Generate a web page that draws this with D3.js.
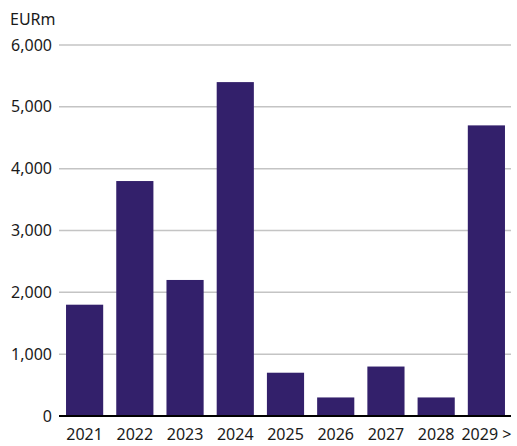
<!DOCTYPE html>
<html>
<head>
<meta charset="utf-8">
<script src="https://cdn.jsdelivr.net/npm/d3@7"></script>
<style>
  html, body { margin: 0; padding: 0; background: #fff; }
  svg text { font-family: "Noto Sans", sans-serif; fill: #1a1a1a; }
</style>
</head>
<body>
<svg id="chart" width="517" height="446"></svg>
<script>
const categories = ["2021", "2022", "2023", "2024", "2025", "2026", "2027", "2028", "2029 >"];
const values = [1800, 3800, 2200, 5400, 700, 300, 800, 300, 4700];
const yTicks = [0, 1000, 2000, 3000, 4000, 5000, 6000];
const unitLabel = "EURm";

const svg = d3.select("#chart");
const plot = { left: 60, right: 511, top: 45, bottom: 416 };

const x = d3.scaleBand()
  .domain(categories)
  .range([plot.left, plot.right])
  .paddingInner(0.26)
  .paddingOuter(0.12);

const y = d3.scaleLinear().domain([0, 6000]).range([plot.bottom, plot.top]);

// horizontal gridlines
svg.append("g")
  .selectAll("line")
  .data(yTicks.filter(d => d > 0))
  .join("line")
  .attr("x1", plot.left - 1)
  .attr("x2", plot.right)
  .attr("y1", d => y(d))
  .attr("y2", d => y(d))
  .attr("stroke", "#c4c4c4")
  .attr("stroke-width", 1.5);

// y tick labels
svg.append("g")
  .selectAll("text")
  .data(yTicks)
  .join("text")
  .attr("x", 52)
  .attr("y", d => y(d))
  .attr("dy", "0.35em")
  .attr("text-anchor", "end")
  .attr("font-size", 16)
  .text(d => d3.format(",")(d));

// unit label
svg.append("text")
  .attr("x", 10)
  .attr("y", 25)
  .attr("font-size", 16)
  .text(unitLabel);

// bars
svg.append("g")
  .selectAll("rect")
  .data(values)
  .join("rect")
  .attr("x", (d, i) => x(categories[i]))
  .attr("width", x.bandwidth())
  .attr("y", d => y(d))
  .attr("height", d => y(0) - y(d))
  .attr("fill", "#33206b");

// baseline
svg.append("line")
  .attr("x1", plot.left - 1)
  .attr("x2", plot.right)
  .attr("y1", y(0))
  .attr("y2", y(0))
  .attr("stroke", "#000")
  .attr("stroke-width", 2.2);

// x tick labels
svg.append("g")
  .selectAll("text")
  .data(categories)
  .join("text")
  .attr("x", d => x(d) + x.bandwidth() / 2)
  .attr("y", 440)
  .attr("text-anchor", "middle")
  .attr("font-size", 16)
  .text(d => d);
</script>
</body>
</html>
